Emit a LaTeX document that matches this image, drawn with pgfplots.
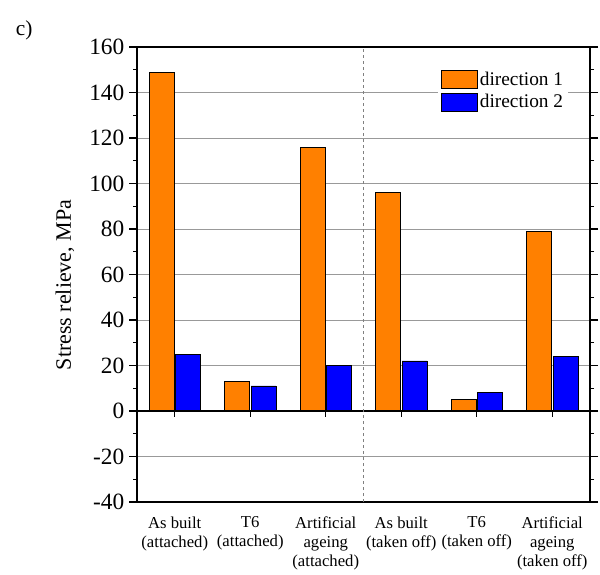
\documentclass[border=0pt]{standalone}
\usepackage{fontspec}
\setmainfont{Liberation Serif}
\usepackage{pgfplots}
\pgfplotsset{compat=1.18}
\definecolor{dirone}{HTML}{FF8000}
\definecolor{dirtwo}{HTML}{0000FF}
\begin{document}
\begin{tikzpicture}
\begin{axis}[
  name=main,
  scale only axis,
  width=339.75pt, height=341.25pt,
  xmin=-0.5, xmax=5.5,
  ymin=-40, ymax=160,
  ytick={-40,-20,...,160},
  minor y tick num=1,
  xtick={0,1,2,3,4,5},
  xticklabels={{As built\\(attached)},{T6\\(attached)},{Artificial\\ageing\\(attached)},{As built\\(taken off)},{T6\\(taken off)},{Artificial\\ageing\\(taken off)}},
  x tick style={draw=none},
  xticklabel style={align=center, font=\fontsize{12.5}{14.4}\selectfont, yshift=-1.5pt},
  yticklabel style={font=\fontsize{17.5}{20}\selectfont},
  /pgf/number format/assume math mode=true,
  tick align=outside,
  major tick length=6pt,
  minor tick length=3pt,
  y tick style={black, line width=0.8pt},
  ymajorgrids,
  grid style={color=black!40, line width=0.6pt},
  axis line style={line width=0.9pt},
  ylabel={Stress relieve, MPa},
  ylabel style={at={(axis description cs:-0.159,0.477)}, anchor=center, font=\fontsize{16.5}{19}\selectfont},
  legend style={at={(0.953,0.958)}, anchor=north east, draw=none, fill=white, font=\fontsize{14.5}{16}\selectfont, row sep=1.5pt, inner sep=2pt},
  legend cell align=left,
  legend image code/.code={\draw[#1, draw=black] (0pt,-6.5pt) rectangle (27pt,6.5pt);},
]
\addplot[ybar, bar width=0.33, bar shift=-0.175, fill=dirone, draw=black, line width=0.5pt] coordinates {(0,149) (1,13) (2,116) (3,96) (4,5) (5,79)};
\addlegendentry{direction 1}
\addplot[ybar, bar width=0.33, bar shift=0.175, fill=dirtwo, draw=black, line width=0.5pt] coordinates {(0,25) (1,11) (2,20) (3,22) (4,8) (5,24)};
\addlegendentry{direction 2}
\addplot[black, line width=0.9pt, forget plot] coordinates {(-0.5,0) (5.5,0)};
\addplot[ycomb, black, line width=0.9pt, forget plot, mark=none] coordinates {(0,-2.6) (1,-2.6) (2,-2.6) (3,-2.6) (4,-2.6) (5,-2.6)};
\addplot[black!50, line width=1pt, forget plot, dash pattern=on 2.5pt off 2pt] coordinates {(2.5,-40) (2.5,160)};
\end{axis}
\useasboundingbox (main.south west) ++(-102.75pt,-47.25pt) rectangle ([shift={(7.5pt,35.25pt)}]main.north east);
\node[anchor=north west, font=\fontsize{16}{18}\selectfont, inner sep=0pt] at ([shift={(-91pt,20pt)}]main.north west) {c)};
\end{tikzpicture}
\end{document}
